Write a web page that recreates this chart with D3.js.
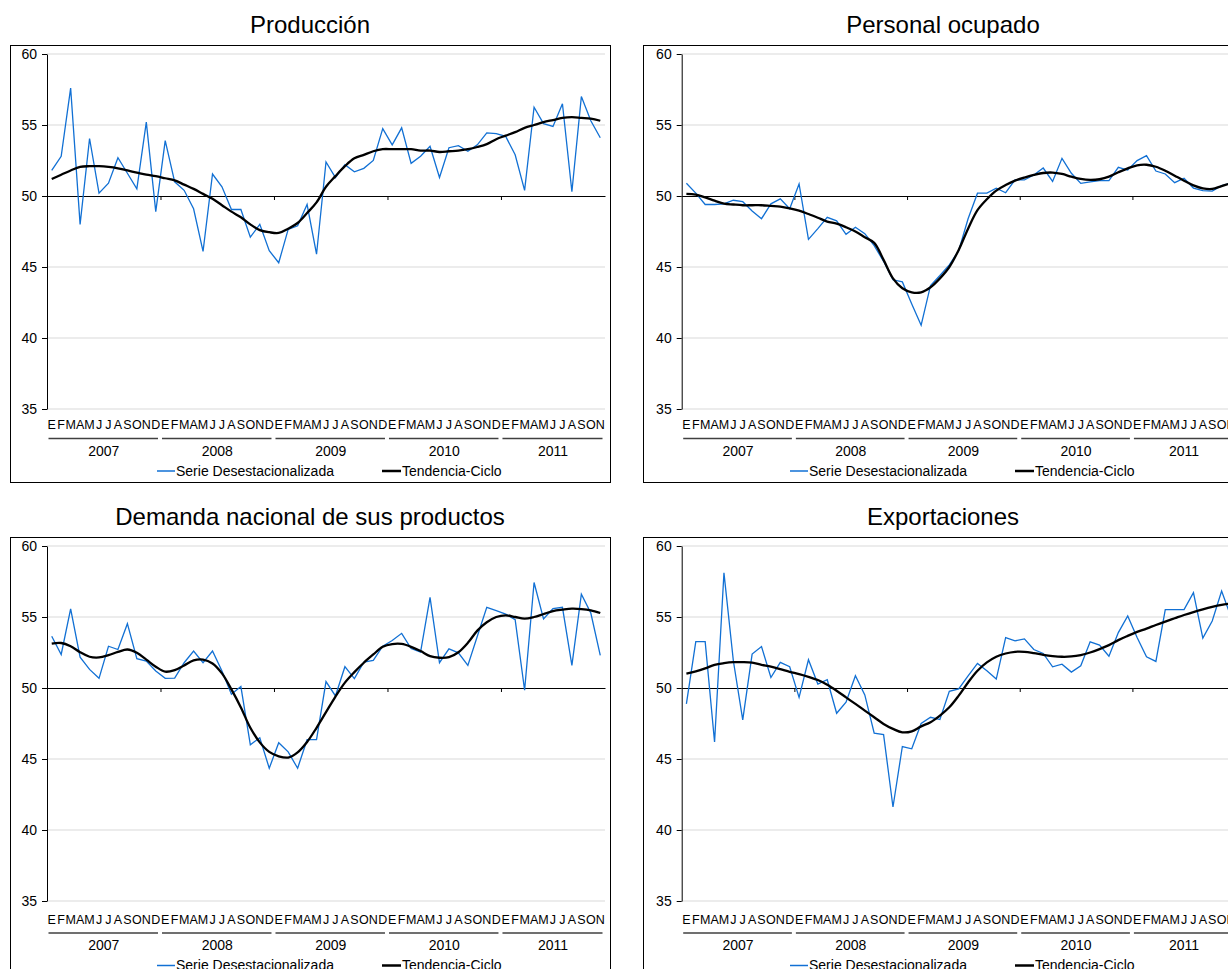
<!DOCTYPE html>
<html>
<head>
<meta charset="utf-8">
<title>Indicadores de opinión</title>
<script src="https://cdn.jsdelivr.net/npm/d3@7"></script>
<style>
  body { margin: 0; background: #fff; }
  svg { display: block; font-family: Arial, "Liberation Sans", sans-serif; }
</style>
</head>
<body>
<script>
// months 2007-01 .. 2011-11
const monthLetters = ['E', 'F', 'M', 'A', 'M', 'J', 'J', 'A', 'S', 'O', 'N', 'D'];
const years = ['2007', '2008', '2009', '2010', '2011'];
const nMonths = 59;
const yTicks = [35, 40, 45, 50, 55, 60];
const legendLabels = ['Serie Desestacionalizada', 'Tendencia-Ciclo'];

const titles = ['Producción', 'Personal ocupado', 'Demanda nacional de sus productos', 'Exportaciones'];

const produccionSerie = [
  51.8, 52.8, 57.6, 48.0, 54.05, 50.2, 50.9, 52.7, 51.6, 50.5, 55.2, 48.9,
  53.9, 51.0, 50.4, 49.1, 46.1, 51.55, 50.65, 49.05, 49.05, 47.1, 48.0, 46.15,
  45.3, 47.65, 47.9, 49.4, 45.9, 52.4, 51.3, 52.2, 51.7, 51.95, 52.5, 54.75,
  53.6, 54.8, 52.3, 52.8, 53.5, 51.3, 53.4, 53.55, 53.15, 53.6, 54.45, 54.4,
  54.2, 52.9, 50.4, 56.25, 55.1, 54.9, 56.5, 50.3, 57.0, 55.3, 54.1
];
const produccionTend = [
  51.2, 51.5, 51.8, 52.05, 52.1, 52.1, 52.05, 51.95, 51.8, 51.65, 51.5, 51.4,
  51.25, 51.1, 50.8, 50.5, 50.15, 49.8, 49.35, 48.9, 48.5, 48.0, 47.6, 47.45,
  47.4, 47.7, 48.1, 48.8, 49.55, 50.65, 51.4, 52.1, 52.65, 52.9, 53.15, 53.3,
  53.3, 53.3, 53.3, 53.2, 53.2, 53.1, 53.15, 53.2, 53.3, 53.45, 53.65, 54.0,
  54.25, 54.5, 54.8, 55.0, 55.2, 55.35, 55.5, 55.55, 55.5, 55.45, 55.3
];

const personalSerie = [
  50.9, 50.2, 49.4, 49.4, 49.45, 49.7, 49.6, 48.95, 48.4, 49.45, 49.8, 49.1,
  50.85, 46.95, 47.7, 48.5, 48.25, 47.3, 47.8, 47.35, 46.5, 45.4, 44.1, 43.95,
  42.4, 40.9, 43.7, 44.4, 45.15, 46.15, 48.4, 50.2, 50.2, 50.55, 50.23, 51.13,
  51.13, 51.48, 51.97, 51.03, 52.65, 51.6, 50.89, 51.0, 51.08, 51.08, 52.02, 51.83,
  52.49, 52.84, 51.76, 51.55, 50.94, 51.25, 50.56, 50.38, 50.35, 50.73, 50.9
];
const personalTend = [
  50.15, 50.1, 49.9, 49.67, 49.46, 49.4, 49.35, 49.35, 49.35, 49.3, 49.25, 49.13,
  48.97, 48.73, 48.47, 48.2, 48.05, 47.8, 47.5, 47.1, 46.7, 45.5, 44.2, 43.5,
  43.22, 43.22, 43.57, 44.2, 45.0, 46.2, 47.7, 49.0, 49.77, 50.38, 50.77, 51.08,
  51.3, 51.48, 51.62, 51.65, 51.55, 51.36, 51.2, 51.13, 51.18, 51.36, 51.67, 51.95,
  52.16, 52.2, 52.06, 51.78, 51.43, 51.08, 50.75, 50.54, 50.5, 50.7, 50.9
];

const demandaSerie = [
  53.64, 52.36, 55.58, 52.17, 51.31, 50.68, 52.94, 52.71, 54.53, 52.06, 51.9, 51.2,
  50.68, 50.7, 51.78, 52.6, 51.78, 52.6, 51.2, 49.56, 50.1, 46.0, 46.5, 44.35,
  46.15, 45.5, 44.35, 46.36, 46.36, 50.45, 49.44, 51.5, 50.66, 51.82, 51.94, 52.94,
  53.34, 53.85, 52.78, 52.52, 56.38, 51.78, 52.76, 52.48, 51.59, 53.64, 55.68, 55.45,
  55.21, 54.81, 49.84, 57.43, 54.86, 55.59, 55.68, 51.59, 56.61, 55.28, 52.29
];
const demandaTend = [
  53.13, 53.17, 52.94, 52.52, 52.2, 52.15, 52.31, 52.54, 52.71, 52.48, 52.0, 51.5,
  51.15, 51.26, 51.59, 51.94, 52.0, 51.73, 51.03, 49.9, 48.63, 47.2, 46.17, 45.5,
  45.19, 45.1, 45.47, 46.2, 47.2, 48.3, 49.4, 50.38, 51.12, 51.78, 52.36, 52.9,
  53.09, 53.1, 52.9, 52.6, 52.24, 52.13, 52.17, 52.52, 53.18, 54.04, 54.63, 55.0,
  55.12, 55.0, 54.88, 55.0, 55.21, 55.42, 55.52, 55.59, 55.56, 55.47, 55.28
];

const exportSerie = [
  48.88, 53.27, 53.27, 46.2, 58.11, 51.92, 47.75, 52.39, 52.92, 50.74, 51.8, 51.5,
  49.34, 51.99, 50.28, 50.58, 48.22, 49.0, 50.86, 49.51, 46.82, 46.72, 41.62, 45.88,
  45.72, 47.5, 47.94, 47.78, 49.76, 49.93, 50.86, 51.73, 51.21, 50.63, 53.55, 53.32,
  53.46, 52.71, 52.43, 51.49, 51.68, 51.12, 51.56, 53.25, 53.02, 52.24, 53.9, 55.07,
  53.55, 52.2, 51.87, 55.52, 55.52, 55.52, 56.71, 53.51, 54.72, 56.83, 55.0
];
const exportTend = [
  51.02, 51.17, 51.38, 51.63, 51.75, 51.82, 51.82, 51.78, 51.63, 51.5, 51.33, 51.14,
  50.98, 50.79, 50.56, 50.23, 49.81, 49.34, 48.88, 48.41, 47.94, 47.47, 47.12, 46.88,
  46.95, 47.3, 47.59, 48.06, 48.64, 49.46, 50.39, 51.21, 51.8, 52.2, 52.43, 52.55,
  52.55, 52.46, 52.34, 52.25, 52.2, 52.22, 52.32, 52.5, 52.74, 53.02, 53.37, 53.67,
  53.95, 54.18, 54.44, 54.68, 54.91, 55.14, 55.35, 55.54, 55.71, 55.85, 55.95
];

const blue = '#1170d4';
const width = 1228, height = 969;

const svg = d3.select('body').append('svg')
  .attr('width', width)
  .attr('height', height);

const panels = [
  { title: titles[0], serie: produccionSerie, tend: produccionTend, fx: 10, fy: 45, plotLeft: 37, plotW: 558, shift: 0 },
  { title: titles[1], serie: personalSerie, tend: personalTend, fx: 643, fy: 45, plotLeft: 38.7, plotW: 554, shift: 0 },
  { title: titles[2], serie: demandaSerie, tend: demandaTend, fx: 10, fy: 537, plotLeft: 37, plotW: 558, shift: 2.5 },
  { title: titles[3], serie: exportSerie, tend: exportTend, fx: 643, fy: 537, plotLeft: 38.7, plotW: 554, shift: 2.5 }
];

panels.forEach(drawPanel);

function drawPanel(p) {
  const g = svg.append('g').attr('transform', `translate(${p.fx},${p.fy})`);
  const top = 9, bottom = 364;

  g.append('rect')
    .attr('x', 0.5).attr('y', 0.5)
    .attr('width', 600).attr('height', 437)
    .attr('fill', 'none')
    .attr('stroke', '#000');

  g.append('text')
    .attr('x', 300).attr('y', -12.5)
    .attr('text-anchor', 'middle')
    .style('font-size', '24px')
    .attr('fill', '#000')
    .text(p.title);

  const x = d3.scaleBand().domain(d3.range(nMonths)).range([p.plotLeft, p.plotLeft + p.plotW]);
  const xLin = d3.scaleLinear().domain([0, nMonths]).range([p.plotLeft, p.plotLeft + p.plotW]);
  const y = d3.scaleLinear().domain([35, 60]).range([bottom, top]);
  const cx = i => x(i) + x.bandwidth() / 2;

  // gridlines
  g.selectAll('.grid')
    .data(yTicks.filter(t => t !== 50))
    .enter().append('line')
    .attr('x1', p.plotLeft).attr('x2', p.plotLeft + p.plotW)
    .attr('y1', d => y(d)).attr('y2', d => y(d))
    .attr('stroke', '#d9d9d9')
    .attr('stroke-width', 1);

  // y axis
  const yAxis = g.append('g')
    .attr('transform', `translate(${p.plotLeft},0)`)
    .call(d3.axisLeft(y).tickValues(yTicks).tickSize(5).tickSizeOuter(0).tickPadding(5));
  yAxis.selectAll('text').style('font-size', '14px').attr('fill', '#000').style('font-family', 'Arial, "Liberation Sans", sans-serif');
  yAxis.selectAll('line,path').attr('stroke', '#000');

  // x axis crossing at 50
  const xAxis = g.append('g')
    .attr('transform', `translate(0,${y(50)})`)
    .call(d3.axisBottom(xLin).tickValues([12, 24, 36, 48]).tickSize(4).tickSizeOuter(0).tickFormat(''));
  xAxis.selectAll('line,path').attr('stroke', '#000');

  const tb = bottom + p.shift;

  // month letters
  g.selectAll('.month')
    .data(d3.range(nMonths))
    .enter().append('text')
    .attr('x', d => cx(d))
    .attr('y', tb + 16)
    .attr('dy', '0.35em')
    .attr('text-anchor', 'middle')
    .style('font-size', '12.5px')
    .attr('fill', '#000')
    .text(d => monthLetters[d % 12]);

  // year groups
  years.forEach((yr, k) => {
    const s = xLin(k * 12), e = xLin(Math.min((k + 1) * 12, nMonths));
    g.append('line')
      .attr('x1', s + 1.5).attr('x2', e - 2.5)
      .attr('y1', tb + 29.5).attr('y2', tb + 29.5)
      .attr('stroke', '#404040').attr('stroke-width', 1.5);
    g.append('text')
      .attr('x', (s + e) / 2)
      .attr('y', tb + 42)
      .attr('dy', '0.35em')
      .attr('text-anchor', 'middle')
      .style('font-size', '14px')
      .attr('fill', '#000')
      .text(yr);
  });

  // series
  const line = d3.line().x((d, i) => cx(i)).y(d => y(d));
  g.append('path')
    .datum(p.serie)
    .attr('d', line)
    .attr('fill', 'none')
    .attr('stroke', blue)
    .attr('stroke-width', 1.3)
    .attr('stroke-linejoin', 'miter');

  g.append('path')
    .datum(p.tend)
    .attr('d', line.curve(d3.curveCatmullRom))
    .attr('fill', 'none')
    .attr('stroke', '#000')
    .attr('stroke-width', 2.3);

  // legend
  const ly = tb + 62;
  g.append('line').attr('x1', 147).attr('x2', 165).attr('y1', ly).attr('y2', ly)
    .attr('stroke', blue).attr('stroke-width', 1.5);
  g.append('text').attr('x', 166).attr('y', ly).attr('dy', '0.35em')
    .style('font-size', '14px').attr('fill', '#000').text(legendLabels[0]);
  g.append('line').attr('x1', 372).attr('x2', 391).attr('y1', ly).attr('y2', ly)
    .attr('stroke', '#000').attr('stroke-width', 2.5);
  g.append('text').attr('x', 392).attr('y', ly).attr('dy', '0.35em')
    .style('font-size', '14px').attr('fill', '#000').text(legendLabels[1]);
}
</script>
</body>
</html>
